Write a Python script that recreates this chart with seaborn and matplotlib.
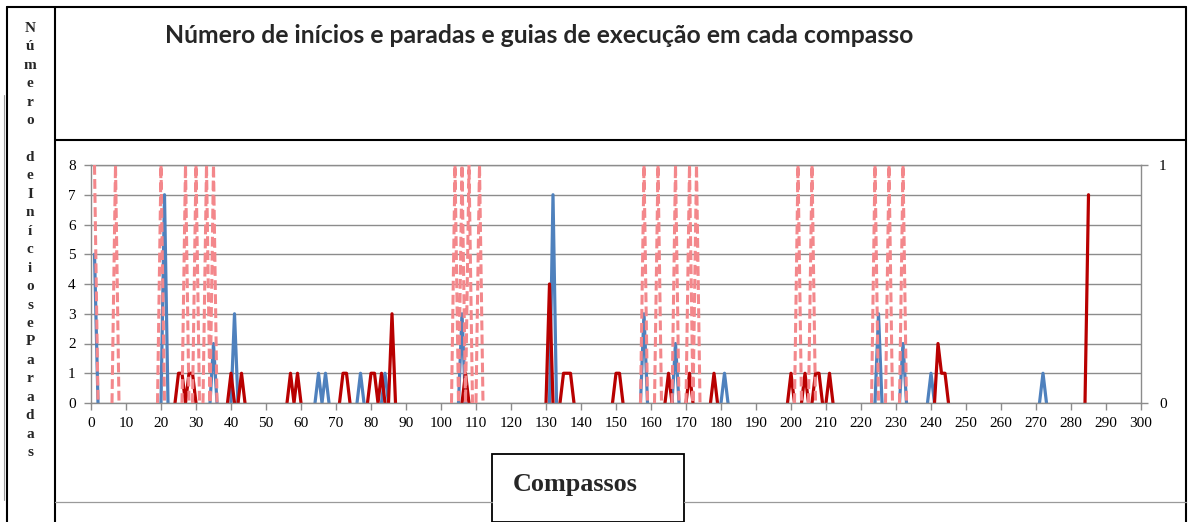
import numpy as np
import pandas as pd
import matplotlib
matplotlib.use("Agg")
import matplotlib.pyplot as plt
from matplotlib.lines import Line2D
from matplotlib.patches import Rectangle
import seaborn as sns

# ---------------- data ----------------
n_measures = 285
blue_measures = [1, 21, 35, 41, 65, 67, 77, 84, 106, 132, 158, 167, 181, 225, 232, 240, 272]
blue_values = [5, 7, 2, 3, 1, 1, 1, 1, 3, 7, 3, 2, 1, 3, 2, 1, 1]
red_measures = [25, 26, 28, 29, 40, 43, 57, 59, 72, 73, 80, 81, 83, 86, 107, 131,
                135, 136, 137, 150, 151, 165, 171, 178, 200, 204, 207, 208, 211,
                242, 243, 244, 285]
red_values = [1, 1, 1, 1, 1, 1, 1, 1, 1, 1, 1, 1, 1, 3, 1, 4,
              1, 1, 1, 1, 1, 1, 1, 1, 1, 1, 1, 1, 1,
              2, 1, 1, 7]
guide_measures = [1, 7, 20, 27, 30, 33, 35, 104, 106, 108, 111, 158, 162, 167,
                  171, 173, 202, 206, 224, 228, 232]
x_ticks = list(range(0, 301, 10))
y_ticks = list(range(0, 9))
y2_ticks = [0, 1]
title = "Número de inícios e paradas e guias de execução em cada compasso"
y_label_words = ["Número", "", "de", "Inícios", "e", "Paradas"]
x_label = "Compassos"

BLUE = "#4F81BD"
RED = "#B80000"
PINK = "#F3878B"
GRID = "#8C8C8C"

# ---------------- series ----------------
measures = np.arange(1, n_measures + 1)
blue = np.zeros(n_measures)
blue[np.array(blue_measures) - 1] = blue_values
red = np.zeros(n_measures)
red[np.array(red_measures) - 1] = red_values
guide = np.zeros(n_measures)
guide[np.array(guide_measures) - 1] = 1


def segments(x, y, keep):
    rows = []
    unit = 0
    prev = False
    for i in range(len(x) - 1):
        if keep(y[i], y[i + 1]):
            if not prev:
                unit += 1
                rows.append((x[i], y[i], unit))
            rows.append((x[i + 1], y[i + 1], unit))
            prev = True
        else:
            prev = False
    return pd.DataFrame(rows, columns=["measure", "value", "unit"])


seg_blue = segments(measures, blue, lambda a, b: a != 0 or b != 0)
seg_red = segments(measures, red, lambda a, b: a != 0 or b != 0)
seg_guide = segments(measures, guide, lambda a, b: a != b)

# ---------------- figure ----------------
sns.set_theme(style="white")
plt.rcParams["font.family"] = ["Liberation Serif", "DejaVu Sans"]

W, H = 1188, 522
fig = plt.figure(figsize=(W / 100, H / 100), dpi=100)
fig.patch.set_facecolor("white")


def fx(x):
    return x / W


def fy(y):
    return 1 - y / H


ax = fig.add_axes([fx(91), fy(403), (1141 - 91) / W, (403 - 165) / H])
ax.set_facecolor("white")

sns.lineplot(data=seg_blue, x="measure", y="value", units="unit", estimator=None,
             sort=False, color=BLUE, linewidth=2.3, ax=ax, legend=False)
sns.lineplot(data=seg_red, x="measure", y="value", units="unit", estimator=None,
             sort=False, color=RED, linewidth=2.3, ax=ax, legend=False)

ax.set_xlim(0, 300)
ax.set_ylim(0, 8)
ax.set_xticks(x_ticks)
ax.set_yticks(y_ticks)
ax.set_xlabel("")
ax.set_ylabel("")
ax.yaxis.grid(True, color=GRID, linewidth=1.0)
ax.xaxis.grid(False)
ax.set_axisbelow(True)
for side in ["left", "bottom", "top"]:
    ax.spines[side].set_visible(True)
    ax.spines[side].set_color(GRID)
    ax.spines[side].set_linewidth(1.0)
ax.spines["right"].set_visible(False)
ax.tick_params(axis="both", which="major", bottom=True, left=True, direction="out",
               length=5, width=1, color=GRID, labelsize=11, labelcolor="black")
ax.tick_params(axis="x", pad=5)
ax.tick_params(axis="y", pad=6)

ax2 = ax.twinx()
sns.lineplot(data=seg_guide, x="measure", y="value", units="unit", estimator=None,
             sort=False, color=PINK, linewidth=2.2, linestyle=(0, (3.2, 1.4)),
             ax=ax2, legend=False)
ax2.set_xlim(0, 300)
ax2.set_ylim(0, 1)
ax2.set_yticks(y2_ticks)
ax2.set_ylabel("")
ax2.grid(False)
for side in ["left", "bottom", "top"]:
    ax2.spines[side].set_visible(False)
ax2.spines["right"].set_visible(True)
ax2.spines["right"].set_color(GRID)
ax2.spines["right"].set_linewidth(1.0)
ax2.tick_params(axis="y", right=True, direction="out", length=5, width=1,
                color=GRID, labelsize=11, labelcolor="black", pad=8)

# ---------------- frame lines ----------------
def hline(y, x0, x1, color="black", lw=1.5):
    fig.add_artist(Line2D([fx(x0), fx(x1)], [fy(y), fy(y)], transform=fig.transFigure,
                          color=color, lw=lw))


def vline(x, y0, y1, color="black", lw=1.5):
    fig.add_artist(Line2D([fx(x), fx(x)], [fy(y0), fy(y1)], transform=fig.transFigure,
                          color=color, lw=lw))


vline(7, 7, 522)
hline(7, 7, 1186)
vline(55, 7, 522)
vline(1186, 7, 522)
hline(140, 55, 1186)
hline(502, 55, 492, color="#9A9A9A", lw=0.9)
hline(502, 684, 1186, color="#9A9A9A", lw=0.9)
vline(4, 95, 500, color="#9A9A9A", lw=0.8)
fig.add_artist(Rectangle((fx(492), fy(522)), fx(684) - fx(492), fy(454) - fy(522),
                         transform=fig.transFigure, fill=False, edgecolor="black", lw=1.3))

# ---------------- texts ----------------
fig.canvas.draw()
t_title = fig.text(fx(165), fy(43), title, ha="left", va="baseline",
                   fontfamily=["Lato", "DejaVu Sans"], fontweight="bold", fontsize=15)
t_x = fig.text(fx(575), fy(491), x_label, ha="center", va="baseline",
               fontfamily=["Liberation Serif", "DejaVu Sans"], fontweight="bold", fontsize=16)
renderer = fig.canvas.get_renderer()
for t, target in [(t_title, 753), (t_x, 125)]:
    bb = t.get_window_extent(renderer)
    t.set_fontsize(t.get_fontsize() * target / bb.width)

letters = []
for w in y_label_words:
    if w == "":
        letters.append("")
    else:
        letters.extend(list(w))
for i, ch in enumerate(letters):
    if ch:
        fig.text(fx(30), fy(28.3 + 18.45 * i), ch, ha="center", va="center",
                 fontfamily=["Liberation Serif", "DejaVu Sans"], fontweight="bold",
                 fontsize=11)

fig.savefig("out.png", dpi=100, facecolor="white")
